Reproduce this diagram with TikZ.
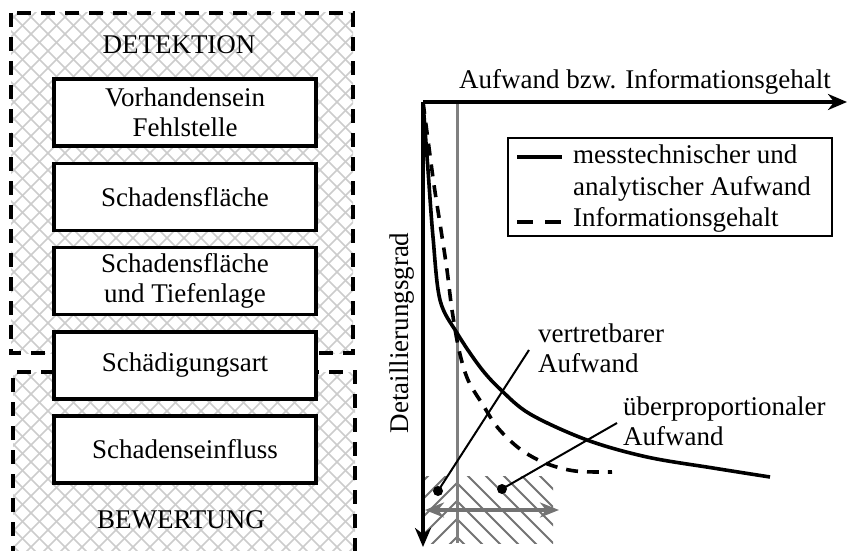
\documentclass[tikz,border=0pt]{standalone}
\usepackage{fontspec}
\setmainfont{Liberation Serif}
\usetikzlibrary{arrows.meta}
\begin{document}
\begin{tikzpicture}[x=1pt,y=-1pt,
  every node/.style={font=\fontsize{27}{30}\selectfont, inner sep=0pt},
  card/.style={draw, line width=3.4pt, fill=white, minimum width=262pt,
    minimum height=67pt, align=center},
  zone/.style={line width=3.4pt, dash pattern=on 14pt off 10pt},
  xhatch/.style={draw=black!20, line width=1.6pt},
  hatchline/.style={draw=black!55, line width=2pt},
  axisline/.style={line width=3.6pt, -{Stealth[length=19pt,width=16pt,inset=6pt]}},
  guideline/.style={draw=black!50, line width=3pt},
  spanarrow/.style={draw=black!55, line width=3.4pt,
    {Stealth[length=19pt,width=15pt,inset=6pt]}-{Stealth[length=19pt,width=15pt,inset=6pt]}},
  effort/.style={line width=3.6pt},
  info/.style={line width=3.6pt, dash pattern=on 12pt off 9pt},
  dotmark/.style={circle, fill=black, minimum size=10pt},
  pointer/.style={line width=2pt}
]
\useasboundingbox (0,0) rectangle (849,551);

% ---------- left: cross-hatched zones ----------
\begin{scope}
  \clip (11,13) rectangle (353,353);
  \foreach \c in {-360,-343,...,900} {
    \draw[xhatch] (\c,0) -- ++(600,600);
    \draw[xhatch] (\c,0) -- ++(-600,600);
  }
\end{scope}
\begin{scope}
  \clip (13,372) rectangle (355,560);
  \foreach \c in {-360,-343,...,960} {
    \draw[xhatch] (\c,360) -- ++(600,600);
    \draw[xhatch] (\c,360) -- ++(-600,600);
  }
\end{scope}
\draw[zone] (11,13) rectangle (353,353);
\draw[zone] (13,560) -- (13,372) -- (355,372) -- (355,560);

\node (detektion) at (179,45) {DETEKTION};
\node (bewertung) at (181,520) {BEWERTUNG};

\node[card] (b1) at (185,112.5) {Vorhandensein\\Fehlstelle};
\node[card] (b2) at (185,197) {Schadensfläche};
\node[card] (b3) at (185,281) {Schadensfläche\\und Tiefenlage};
\node[card] (b4) at (185,365.5) {Schädigungsart};
\node[card] (b5) at (185,449.5) {Schadenseinfluss};

% ---------- right: effort / information diagram ----------
\coordinate (O) at (423,102);
\coordinate (xend) at (847,102);
\coordinate (yend) at (423,547);

% hatched ranges below the curves: rising lines left of the marker,
% falling lines right of it
\begin{scope}
  \clip (425,476) rectangle (457,543);
  \foreach \y in {484,502,...,592} {
    \draw[hatchline] (420,\y) -- (462,\y-42);
  }
\end{scope}
\begin{scope}
  \clip (457,476) rectangle (553,543);
  \foreach \c in {360,378,...,600} {
    \draw[hatchline] (\c,440) -- ++(120,120);
  }
\end{scope}

\coordinate (mtop) at (457,102);
\coordinate (mbot) at (457,543);
\draw[guideline] (mtop) -- (mbot);

\coordinate (rl) at (425,510);
\coordinate (rr) at (559,510);
\draw[spanarrow] (rl) -- (rr);

\draw[axisline] (O) -- (xend);
\draw[axisline] (O) -- (yend);

\node (xlabel) at (645,82) {Aufwand bzw. Informationsgehalt};
\node[rotate=90] (ylabel) at (402,333) {Detaillierungsgrad};

% curves
\draw[effort] plot[smooth, tension=0.55] coordinates {
  (423,102) (428,170) (433,237) (440,300) (457,333) (480,367)
  (500,389) (530,414) (587,440) (647,457) (713,468) (770,477)};
\draw[info] plot[smooth, tension=0.55] coordinates {
  (423,102) (428,140) (434,185) (441,230) (447,270) (452,310)
  (459,350) (468,380) (483,405) (498,428) (520,449) (545,463)
  (575,471) (612,472)};

% legend
\node[draw, line width=2.2pt, minimum width=324pt, minimum height=98pt] (legend) at (670,187) {};
\coordinate (s1a) at (517,157);
\coordinate (s1b) at (562,157);
\coordinate (s2a) at (517,222);
\coordinate (s2b) at (562,222);
\draw[effort] (s1a) -- (s1b);
\draw[line width=3.6pt, dash pattern=on 16pt off 12pt] (s2a) -- (s2b);
\node[anchor=west, align=left, font=\fontsize{27}{31.5}\selectfont] (legtext) at (573,189)
  {messtechnischer und\\analytischer Aufwand\\Informationsgehalt};

% annotations
\node[dotmark] (d1) at (438,491) {};
\node[dotmark] (d2) at (502,489) {};
\coordinate (p1) at (529,350);
\coordinate (p2) at (617,423);
\draw[pointer] (d1.center) -- (p1);
\draw[pointer] (d2.center) -- (p2);
\node[anchor=west, align=left] (lab1) at (538,348) {vertretbarer\\Aufwand};
\node[anchor=west, align=left] (lab2) at (623,421) {überproportionaler\\Aufwand};
\end{tikzpicture}
\end{document}
